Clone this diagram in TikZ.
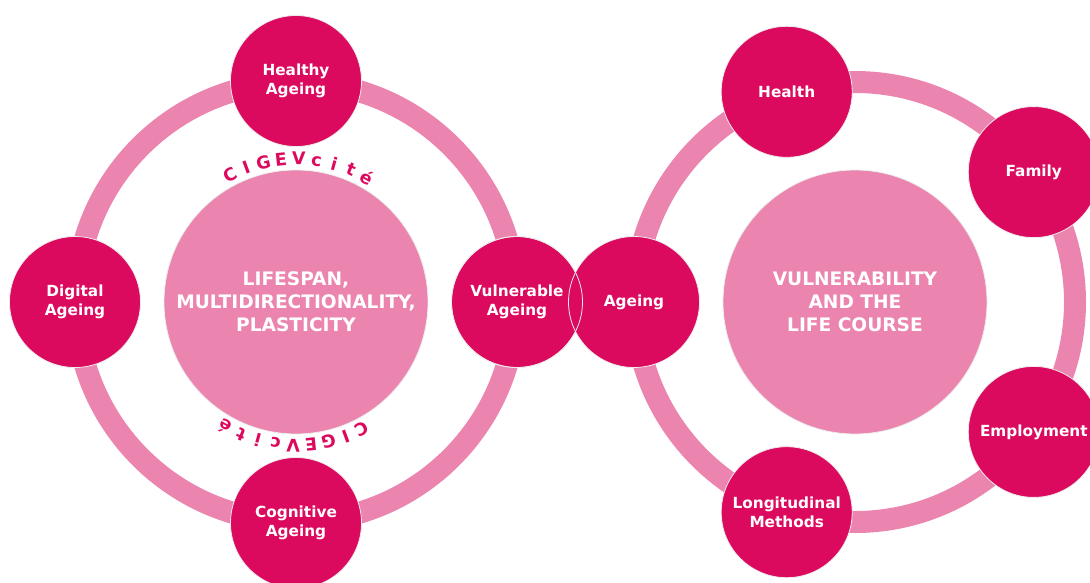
\documentclass[tikz,border=0pt]{standalone}
\usepackage{fontspec}
\setmainfont{DejaVu Sans}
\usetikzlibrary{calc}

\definecolor{cigevdark}{HTML}{DC0A5E}
\definecolor{cigevlight}{HTML}{EB84AE}

\tikzset{
	ring/.style={draw=cigevlight, line width=22pt},
	core/.style={circle, fill=cigevlight, draw=white!85!gray, line width=0.8pt,
		minimum size=264pt, inner sep=0pt, text=white, align=center,
		font=\fontsize{18.6}{23}\selectfont\bfseries},
	theme/.style={circle, fill=cigevdark, draw=white!85!gray, line width=0.8pt,
		minimum size=131pt, inner sep=0pt, text=white, align=center,
		font=\fontsize{15.3}{19.5}\selectfont\bfseries},
	rim/.style={draw=white!85!gray, line width=0.8pt},
	brand/.style={text=cigevdark, inner sep=0pt, anchor=base,
		font=\fontsize{17.5}{17.5}\selectfont\bfseries},
}

\begin{document}
\begin{tikzpicture}[x=1pt,y=-1pt]
	\useasboundingbox (0,0) rectangle (1090,582);
	\coordinate (lmid) at (296,302);
	\coordinate (rmid) at (855,302);
	% the two rings
	\draw[ring] (lmid) circle (220pt);
	\draw[ring] (rmid) circle (220pt);
	% centres
	\node[core] (lcore) at (lmid) {LIFESPAN,\\MULTIDIRECTIONALITY,\\PLASTICITY};
	\node[core] (rcore) at (rmid) {VULNERABILITY\\AND THE\\LIFE COURSE};
	% left themes
	\node[theme] (healthy) at ($(lmid)+(90:221pt)$) {Healthy\\Ageing};
	\node[theme] (digital) at ($(lmid)+(180:221pt)$) {Digital\\Ageing};
	\node[theme] (cognitive) at ($(lmid)+(270:221pt)$) {Cognitive\\Ageing};
	\node[theme] (vulner) at ($(lmid)+(0:221pt)$) {Vulnerable\\Ageing};
	% right themes
	\node[theme] (ageing) at ($(rmid)+(180:221pt)$) {Ageing};
	\node[theme] (health) at ($(rmid)+(108:221pt)$) {Health};
	\node[theme] (family) at ($(rmid)+(36:221pt)$) {Family};
	\node[theme] (employ) at ($(rmid)+(-36:221pt)$) {Employment};
	\node[theme] (longit) at ($(rmid)+(-108:221pt)$) {Longitudinal\\Methods};
	\draw[rim] (vulner.center) circle (65.5pt);
	% CIGEVcite round the left centre
	\foreach \ch [count=\i from 0] in {C,I,G,E,V,c,i,t,é}{
		\node[brand, rotate={27.5-7.16*\i}] (top\i) at ($(lmid)+({117.5-7.16*\i}:137pt)$) {\ch};
		\node[brand, rotate={207.5-7.16*\i}] (bot\i) at ($(lmid)+({297.5-7.16*\i}:137pt)$) {\ch};
	}
\end{tikzpicture}
\end{document}
